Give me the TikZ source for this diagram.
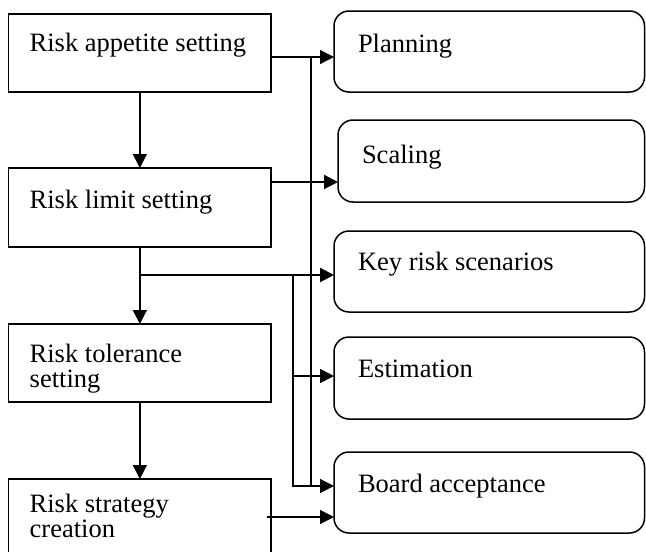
\documentclass[tikz,border=0pt]{standalone}
\usepackage{fontspec}
\setmainfont{Liberation Serif}
\usetikzlibrary{arrows.meta}

\begin{document}
\begin{tikzpicture}[x=1pt, y=-1pt, >={Triangle[length=14pt,width=14pt]},
  font=\fontsize{26.5}{25.5}\selectfont,
  every node/.style={execute at begin node={\spaceskip=0pt\xspaceskip=0pt\hyphenpenalty=10000}},
  stage/.style={draw, line width=1.3pt, anchor=north west, outer sep=0pt,
    inner xsep=21pt, inner ysep=0pt, text width=220.3pt},
  task/.style={draw, line width=1.5pt, rounded corners=15pt, anchor=north west,
    outer sep=0pt, inner xsep=24pt, inner ysep=0pt, text width=262.5pt},
  link/.style={->, line width=1.3pt},
  bus/.style={line width=2.2pt}]

\useasboundingbox (0,0) rectangle (646,552);
\clip (0,0) rectangle (646,552);

% Left column: setting steps
\node[stage, text height=37pt, text depth=41pt] (appetite) at (8.7,14) {Risk appetite setting};
\node[stage, text height=40pt, text depth=39pt] (limit) at (8.7,168) {Risk limit setting};
\node[stage, text height=38pt, text depth=40pt] (tolerance) at (8.7,324) {Risk tolerance\\setting};
\node[stage, text height=33pt, text depth=88pt] (strategy) at (8.7,479) {Risk strategy\\creation};

% Right column: activities
\node[task, text height=41pt, text depth=40pt] (planning) at (334,11) {Planning};
\node[task, text height=43pt, text depth=39pt, text width=258.5pt] (scaling) at (338,120) {Scaling};
\node[task, text height=39pt, text depth=42pt] (keyrisk) at (334,231) {Key risk scenarios};
\node[task, text height=40pt, text depth=42pt] (estimation) at (334,337) {Estimation};
\node[task, text height=40pt, text depth=41pt] (board) at (334,452) {Board acceptance};

% Junction points
\coordinate (busA) at (311,57);
\coordinate (busB) at (311,486);
\coordinate (split) at (293,275);
\coordinate (busC) at (293,486);
\coordinate (estim) at (293,376);
\coordinate (limit out) at (0,182);
\coordinate (strat out) at (0,517);

% Downward flow
\draw[link] (appetite) -- (limit);
\draw[link] (limit) -- (tolerance);
\draw[link] (tolerance) -- (strategy);

% Thin bus from the appetite step
\draw[link] (appetite.east |- busA) -- (planning.west |- busA);
\draw[line width=1.3pt] (busA) -- (busB);
\draw[link] (busB) -- (board.west |- busB);

% Thick lines from the limit step
\draw[link, line width=2.2pt] (limit.east |- limit out) -- (scaling.west |- limit out);
\draw[link, line width=2.2pt] (limit.south |- split) -- (keyrisk.west |- split);
\draw[bus] (split) -- (busC) -- (busB);
\draw[link, line width=1.7pt] (estim) -- (estimation.west |- estim);

% Strategy to board
\draw[link] ([xshift=-4pt]strategy.east |- strat out) -- (board.west |- strat out);

\end{tikzpicture}
\end{document}
